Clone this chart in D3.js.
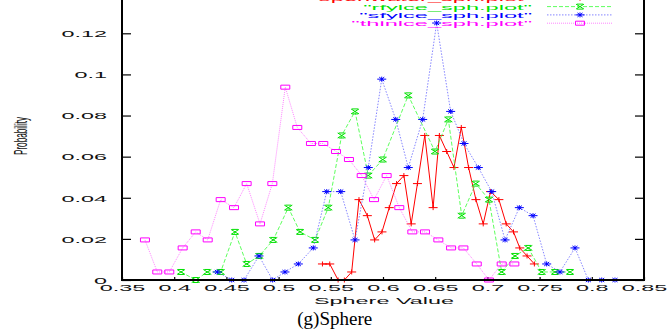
<!DOCTYPE html>
<html>
<head>
<meta charset="utf-8">
<script src="https://cdn.jsdelivr.net/npm/d3@7"></script>
<style>
  html, body { margin: 0; padding: 0; background: #fff; }
  svg { display: block; }
  text { font-family: "Liberation Sans", Arial, sans-serif; }
</style>
</head>
<body>
<svg id="chart" width="669" height="329"></svg>
<script>
// Histogram bin centres (sphere value) and probabilities for each ice class
const openwaterX = [0.542,0.549,0.557,0.563,0.570,0.577,0.585,0.592,0.599,0.606,0.613,0.620,0.627,0.633,0.640,0.648,0.654,0.661,0.668,0.675,0.682,0.689,0.696,0.703,0.711,0.718,0.725,0.731,0.738,0.745];
const openwaterY = [0.0078,0.0078,0,0,0.0039,0.0391,0.0313,0.0195,0.0234,0.0352,0.0469,0.0508,0.0273,0.0469,0.0703,0.0352,0.0703,0.0625,0.0547,0.0742,0.0547,0.0391,0.0273,0.0430,0.0391,0.0273,0.0234,0.0156,0.0117,0.0078];

const rfylceX = [0.4065,0.4206,0.4317,0.4445,0.4582,0.4694,0.4815,0.4949,0.5093,0.5205,0.5349,0.5476,0.5604,0.5732,0.5859,0.5997,0.6242,0.6498,0.6626,0.6754,0.6888,0.7015,0.7137,0.7264,0.7392,0.7520,0.7648,0.7791];
const rfylceY = [0.0039,0,0.0039,0.0039,0.0234,0.0078,0.0117,0.0195,0.0352,0.0234,0.0195,0.0352,0.0703,0.0820,0.0508,0.0586,0.0898,0.0625,0.0781,0.0313,0.0469,0.0391,0.0039,0.0117,0.0156,0.0039,0.0039,0.0039];

const sfylceX = [0.4413,0.4551,0.4669,0.4812,0.4943,0.5061,0.5189,0.5332,0.5461,0.5595,0.5732,0.5859,0.5988,0.6122,0.6242,0.6380,0.6514,0.6648,0.6776,0.6913,0.7041,0.7169,0.7306,0.7437,0.7568,0.7695,0.7839,0.7967,0.8095,0.8222];
const sfylceY = [0.0039,0,0,0.0117,0,0.0039,0.0078,0.0156,0.0430,0.0430,0.0195,0.0547,0.0977,0.0781,0.0547,0.0781,0.1250,0.0820,0.0664,0.0547,0.0430,0.0195,0.0352,0.0313,0.0078,0.0039,0.0156,0,0,0];

const thinlceX = [0.3720,0.3838,0.3953,0.4081,0.4206,0.4321,0.4445,0.4573,0.4694,0.4822,0.4940,0.5064,0.5179,0.5310,0.5428,0.5550,0.5674,0.5796,0.5914,0.6035,0.6156,0.6281,0.6402,0.6530,0.6652,0.6770,0.6898,0.7015,0.7137,0.7258];
const thinlceY = [0.0195,0.0039,0.0039,0.0156,0.0234,0.0195,0.0391,0.0352,0.0469,0.0273,0.0469,0.0938,0.0742,0.0664,0.0664,0.0625,0.0586,0.0508,0.0391,0.0508,0.0352,0.0234,0.0234,0.0195,0.0156,0.0156,0.0078,0,0.0078,0.0078];

const seriesNames = ['"openwater_sph.plot"', '"rfylce_sph.plot"', '"sfylce_sph.plot"', '"thinlce_sph.plot"'];

const xTickValues = [0.35,0.4,0.45,0.5,0.55,0.6,0.65,0.7,0.75,0.8,0.85];
const xTickLabels = ["0.35","0.4","0.45","0.5","0.55","0.6","0.65","0.7","0.75","0.8","0.85"];
const yTickValues = [0,0.02,0.04,0.06,0.08,0.1,0.12];
const yTickLabels = ["0","0.02","0.04","0.06","0.08","0.1","0.12"];

// Plot geometry
const plotLeft = 122, plotRight = 644, plotBottom = 280;
const SX = 2.6;               // horizontal stretch of the wide axis lettering
const svg = d3.select("#chart");

const x = d3.scaleLinear().domain([0.35, 0.85]).range([plotLeft, plotRight]);
const y = d3.scaleLinear().domain([0, 0.12]).range([plotBottom, 33.3]);
const plotTop = y(0.14);

// Marker glyphs (centred on the point)
const glyphs = {
  plus:  "M-4.5,0H4.5M0,-2.5V2.5",
  cross: "M-4,-2.5L4,2.5M-4,2.5L4,-2.5M-3,-2.5H3M-3,2.5H3",
  star:  "M-4.5,0H4.5M0,-2.5V2.5M-2.5,-2L2.5,2M-2.5,2L2.5,-2",
  box:   "M-4.5,-2H4.5V2H-4.5Z"
};

const series = [
  { name: seriesNames[0], xs: openwaterX, ys: openwaterY, color: "#ff0000", line: "#ff0000", dash: null,  width: 1.0, glyph: "plus" },
  { name: seriesNames[1], xs: rfylceX,    ys: rfylceY,    color: "#00e000", line: "#33ff33", dash: "4,2", width: 0.8, glyph: "cross" },
  { name: seriesNames[2], xs: sfylceX,    ys: sfylceY,    color: "#0000ff", line: "#6666ff", dash: "1.5,1.5", width: 0.8, glyph: "star" },
  { name: seriesNames[3], xs: thinlceX,   ys: thinlceY,   color: "#ff00ff", line: "#ff66ff", dash: "1,1", width: 0.8, glyph: "box" }
];

// Axes: ticks point inward, labels stretched horizontally
const yAxisL = d3.axisLeft(y).tickValues(yTickValues).tickSize(-9).tickPadding(0)
  .tickFormat((d, i) => yTickLabels[i]);
const yAxisR = d3.axisRight(y).tickValues(yTickValues).tickSize(-9).tickFormat("");
const xAxisB = d3.axisBottom(x).tickValues(xTickValues).tickSize(-3).tickPadding(0)
  .tickFormat((d, i) => xTickLabels[i]);

const gL = svg.append("g").attr("transform", `translate(${plotLeft},0)`).call(yAxisL);
const gR = svg.append("g").attr("transform", `translate(${plotRight},0)`).call(yAxisR);
const gB = svg.append("g").attr("transform", `translate(0,${plotBottom})`).call(xAxisB);
[gL, gR, gB].forEach(g => {
  g.select(".domain").remove();
  g.selectAll(".tick line").attr("stroke", "#000").attr("stroke-width", 1.2);
});

gL.selectAll(".tick text")
  .attr("x", null).attr("dy", null)
  .attr("transform", `translate(-15,3.3) scale(${SX},1)`)
  .attr("font-size", 9).attr("fill", "#111").attr("text-anchor", "end")
  .style("font-family", '"Liberation Sans", Arial, sans-serif');

gB.selectAll(".tick text")
  .attr("y", null).attr("dy", null)
  .attr("transform", `translate(0,10.5) scale(${SX},1)`)
  .attr("font-size", 9).attr("fill", "#111").attr("text-anchor", "middle")
  .style("font-family", '"Liberation Sans", Arial, sans-serif');

// Series lines and markers
series.forEach(s => {
  const pts = s.xs.map((v, i) => [v, s.ys[i]]);
  const lineGen = d3.line().x(d => x(d[0])).y(d => y(d[1]));
  svg.append("path")
    .attr("d", lineGen(pts))
    .attr("fill", "none")
    .attr("stroke", s.line)
    .attr("stroke-width", s.width)
    .attr("stroke-dasharray", s.dash);
  svg.append("g").selectAll("path")
    .data(pts).join("path")
    .attr("transform", d => `translate(${x(d[0])},${y(d[1])})`)
    .attr("d", glyphs[s.glyph])
    .attr("fill", "none")
    .attr("stroke", s.color)
    .attr("stroke-width", 1);
});

// Frame
svg.append("path")
  .attr("d", `M${plotLeft},${plotTop}V${plotBottom}H${plotRight}V${plotTop}`)
  .attr("fill", "none").attr("stroke", "#000").attr("stroke-width", 2);

// Legend (top right, inside the frame)
const legendRows = [-1.7, 6.6, 14.9, 23.2];
series.forEach((s, i) => {
  const ly = legendRows[i];
  svg.append("text")
    .attr("transform", `translate(532,${ly + 2.9}) scale(2.95,1)`)
    .attr("text-anchor", "end")
    .attr("font-size", 8)
    .attr("fill", s.color)
    .text(s.name);
  svg.append("line")
    .attr("x1", 547).attr("x2", 613).attr("y1", ly).attr("y2", ly)
    .attr("stroke", s.line).attr("stroke-width", s.width)
    .attr("stroke-dasharray", s.dash);
  svg.append("path")
    .attr("transform", `translate(580,${ly})`)
    .attr("d", glyphs[s.glyph])
    .attr("fill", "none").attr("stroke", s.color).attr("stroke-width", 1);
});

// Axis titles
svg.append("text")
  .attr("transform", `translate(384,304) scale(${SX},1)`)
  .attr("text-anchor", "middle").attr("font-size", 9).attr("fill", "#111")
  .text("Sphere Value");

svg.append("text")
  .attr("transform", "translate(27,136) rotate(-90) scale(0.43,1)")
  .attr("text-anchor", "middle").attr("font-size", 19).attr("fill", "#111")
  .text("Probability");

// Caption
svg.append("text")
  .attr("x", 334.7).attr("y", 325)
  .attr("text-anchor", "middle")
  .attr("font-size", 19)
  .style("font-family", '"Liberation Serif", "Times New Roman", serif')
  .attr("fill", "#000")
  .text("(g)Sphere");
</script>
</body>
</html>
